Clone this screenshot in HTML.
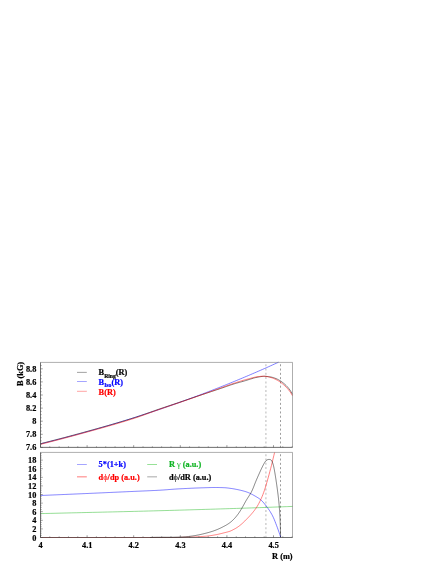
<!DOCTYPE html>
<html><head><meta charset="utf-8"><style>
html,body{margin:0;padding:0;background:#fff;}
svg{display:block}
text{font-family:"Liberation Serif",serif;font-weight:bold;font-size:8.3px;stroke-width:0.2px;fill:#000;stroke:#000}
.b{fill:#0000ff;stroke:#0000ff}.r{fill:#ff0000;stroke:#ff0000}.g{fill:#10b424;stroke:#10b424}
</style></head><body>
<svg width="436" height="564" viewBox="0 0 436 564">
<defs><filter id="bl" x="0" y="0" width="436" height="564" filterUnits="userSpaceOnUse"><feGaussianBlur stdDeviation="0.35"/></filter></defs>
<rect width="436" height="564" fill="#fff"/>
<g filter="url(#bl)">
<g fill="none" stroke-linecap="butt">
<!-- dashed lines -->
<g stroke-dasharray="2.0 2.29" stroke-dashoffset="2.45">
<path d="M265.9,362.4 V447.4 M265.9,452.4 V537.5" stroke="#c4c4c4" stroke-width="1.2" id="dl"/>
<path d="M280.5,362.4 V447.4 M280.5,452.4 V537.5" stroke="#5a5a5a" stroke-width="0.6" id="dd"/>
</g>
<!-- curves top -->
<path d="M40.50,443.89 L42.50,443.40 L44.50,442.90 L46.50,442.40 L48.50,441.90 L50.50,441.40 L52.51,440.89 L54.51,440.38 L56.51,439.87 L58.51,439.35 L60.51,438.83 L62.51,438.31 L64.51,437.79 L66.51,437.26 L68.51,436.73 L70.51,436.20 L72.51,435.66 L74.51,435.13 L76.52,434.58 L78.52,434.04 L80.52,433.49 L82.52,432.94 L84.52,432.39 L86.52,431.83 L88.52,431.27 L90.52,430.71 L92.52,430.15 L94.52,429.58 L96.52,429.01 L98.52,428.43 L100.53,427.86 L102.53,427.28 L104.53,426.69 L106.53,426.10 L108.53,425.51 L110.53,424.92 L112.53,424.32 L114.53,423.72 L116.53,423.12 L118.53,422.52 L120.53,421.91 L122.53,421.29 L124.54,420.68 L126.54,420.06 L128.54,419.43 L130.54,418.81 L132.54,418.18 L134.54,417.55 L136.54,416.91 L138.54,416.27 L140.54,415.63 L142.54,414.98 L144.54,414.33 L146.54,413.68 L148.55,413.02 L150.55,412.36 L152.55,411.70 L154.55,411.03 L156.55,410.36 L158.55,409.69 L160.55,409.01 L162.55,408.33 L164.55,407.64 L166.55,406.95 L168.55,406.26 L170.55,405.57 L172.56,404.87 L174.56,404.16 L176.56,403.46 L178.56,402.75 L180.56,402.03 L182.56,401.31 L184.56,400.59 L186.56,399.87 L188.56,399.14 L190.56,398.40 L192.56,397.67 L194.56,396.93 L196.57,396.18 L198.57,395.43 L200.57,394.68 L202.57,393.93 L204.57,393.17 L206.57,392.40 L208.57,391.64 L210.57,390.86 L212.57,390.09 L214.57,389.31 L216.57,388.53 L218.57,387.74 L220.58,386.95 L222.58,386.15 L224.58,385.35 L226.58,384.55 L228.58,383.74 L230.58,382.93 L232.58,382.11 L234.58,381.29 L236.58,380.47 L238.58,379.64 L240.58,378.81 L242.58,377.97 L244.59,377.13 L246.59,376.29 L248.59,375.44 L250.59,374.59 L252.59,373.73 L254.59,372.87 L256.59,372.00 L258.59,371.13 L260.59,370.26 L262.59,369.38 L264.59,368.50 L266.59,367.61 L268.60,366.72 L270.60,365.82 L272.60,364.92 L274.60,364.01 L276.60,363.10 L278.60,362.19" stroke="#0000ff" stroke-width="0.5"/>
<path d="M40.50,443.70 L41.77,443.38 L43.03,443.06 L44.30,442.74 L45.57,442.42 L46.83,442.10 L48.10,441.78 L49.36,441.45 L50.63,441.13 L51.90,440.80 L53.16,440.47 L54.43,440.15 L55.70,439.82 L56.96,439.49 L58.23,439.16 L59.49,438.83 L60.76,438.50 L62.03,438.16 L63.29,437.83 L64.56,437.50 L65.83,437.16 L67.09,436.82 L68.36,436.49 L69.63,436.15 L70.89,435.81 L72.16,435.47 L73.42,435.13 L74.69,434.79 L75.96,434.45 L77.22,434.10 L78.49,433.76 L79.76,433.41 L81.02,433.07 L82.29,432.72 L83.56,432.38 L84.82,432.03 L86.09,431.68 L87.35,431.33 L88.62,430.98 L89.89,430.63 L91.15,430.28 L92.42,429.93 L93.69,429.58 L94.95,429.23 L96.22,428.88 L97.48,428.53 L98.75,428.17 L100.02,427.82 L101.28,427.47 L102.55,427.11 L103.82,426.76 L105.08,426.40 L106.35,426.04 L107.62,425.69 L108.88,425.33 L110.15,424.97 L111.41,424.60 L112.68,424.24 L113.95,423.87 L115.21,423.51 L116.48,423.14 L117.75,422.77 L119.01,422.39 L120.28,422.02 L121.55,421.64 L122.81,421.26 L124.08,420.88 L125.34,420.50 L126.61,420.11 L127.88,419.72 L129.14,419.33 L130.41,418.94 L131.68,418.54 L132.94,418.14 L134.21,417.74 L135.47,417.33 L136.74,416.91 L138.01,416.49 L139.27,416.06 L140.54,415.63 L141.81,415.19 L143.07,414.75 L144.34,414.31 L145.61,413.86 L146.87,413.42 L148.14,412.97 L149.40,412.52 L150.67,412.07 L151.94,411.62 L153.20,411.17 L154.47,410.72 L155.74,410.27 L157.00,409.83 L158.27,409.39 L159.54,408.96 L160.80,408.53 L162.07,408.10 L163.33,407.67 L164.60,407.25 L165.87,406.82 L167.13,406.40 L168.40,405.98 L169.67,405.55 L170.93,405.13 L172.20,404.71 L173.46,404.29 L174.73,403.87 L176.00,403.44 L177.26,403.02 L178.53,402.60 L179.80,402.17 L181.06,401.74 L182.33,401.31 L183.60,400.88 L184.86,400.45 L186.13,400.02 L187.39,399.58 L188.66,399.15 L189.93,398.72 L191.19,398.29 L192.46,397.86 L193.73,397.43 L194.99,397.00 L196.26,396.58 L197.53,396.15 L198.79,395.73 L200.06,395.31 L201.32,394.89 L202.59,394.47 L203.86,394.05 L205.12,393.63 L206.39,393.22 L207.66,392.80 L208.92,392.38 L210.19,391.96 L211.45,391.54 L212.72,391.13 L213.99,390.71 L215.25,390.29 L216.52,389.86 L217.79,389.44 L219.05,389.02 L220.32,388.59 L221.59,388.16 L222.85,387.72 L224.12,387.28 L225.38,386.83 L226.65,386.39 L227.92,385.95 L229.18,385.51 L230.45,385.07 L231.72,384.65 L232.98,384.23 L234.25,383.83 L235.52,383.44 L236.78,383.08 L238.05,382.72 L239.31,382.38 L240.58,382.04 L241.85,381.69 L243.11,381.35 L244.38,380.98 L245.65,380.60 L246.91,380.20 L248.18,379.79 L249.44,379.40 L250.71,379.01 L251.98,378.61 L253.24,378.22 L254.51,377.87 L255.78,377.55 L257.04,377.29 L258.31,377.06 L259.58,376.83 L260.84,376.62 L262.11,376.45 L263.37,376.34 L264.64,376.30 L265.91,376.34 L267.17,376.46 L268.44,376.62 L269.71,376.82 L270.97,377.03 L272.24,377.31 L273.51,377.68 L274.77,378.11 L276.04,378.60 L277.30,379.14 L278.57,379.80 L279.84,380.55 L281.10,381.36 L282.37,382.27 L283.64,383.27 L284.90,384.37 L286.17,385.56 L287.43,386.88 L288.70,388.37 L289.97,390.05 L291.23,392.06 L292.50,394.40" stroke="#000" stroke-width="0.5"/>
<path d="M40.50,444.35 L41.77,444.03 L43.03,443.71 L44.30,443.39 L45.57,443.07 L46.83,442.75 L48.10,442.43 L49.36,442.11 L50.63,441.78 L51.90,441.46 L53.16,441.13 L54.43,440.80 L55.70,440.47 L56.96,440.15 L58.23,439.82 L59.49,439.48 L60.76,439.15 L62.03,438.82 L63.29,438.49 L64.56,438.15 L65.83,437.82 L67.09,437.48 L68.36,437.14 L69.63,436.80 L70.89,436.47 L72.16,436.13 L73.42,435.78 L74.69,435.44 L75.96,435.10 L77.22,434.76 L78.49,434.41 L79.76,434.07 L81.02,433.72 L82.29,433.38 L83.56,433.03 L84.82,432.68 L86.09,432.33 L87.35,431.98 L88.62,431.63 L89.89,431.28 L91.15,430.93 L92.42,430.58 L93.69,430.23 L94.95,429.88 L96.22,429.53 L97.48,429.17 L98.75,428.82 L100.02,428.47 L101.28,428.12 L102.55,427.76 L103.82,427.41 L105.08,427.05 L106.35,426.69 L107.62,426.33 L108.88,425.97 L110.15,425.61 L111.41,425.25 L112.68,424.88 L113.95,424.52 L115.21,424.15 L116.48,423.78 L117.75,423.41 L119.01,423.03 L120.28,422.65 L121.55,422.27 L122.81,421.89 L124.08,421.51 L125.34,421.12 L126.61,420.73 L127.88,420.34 L129.14,419.95 L130.41,419.55 L131.68,419.15 L132.94,418.74 L134.21,418.34 L135.47,417.92 L136.74,417.50 L138.01,417.07 L139.27,416.63 L140.54,416.19 L141.81,415.74 L143.07,415.29 L144.34,414.84 L145.61,414.38 L146.87,413.92 L148.14,413.46 L149.40,413.00 L150.67,412.54 L151.94,412.08 L153.20,411.62 L154.47,411.16 L155.74,410.70 L157.00,410.25 L158.27,409.80 L159.54,409.36 L160.80,408.92 L162.07,408.49 L163.33,408.05 L164.60,407.62 L165.87,407.19 L167.13,406.76 L168.40,406.34 L169.67,405.91 L170.93,405.48 L172.20,405.06 L173.46,404.63 L174.73,404.20 L176.00,403.77 L177.26,403.34 L178.53,402.91 L179.80,402.47 L181.06,402.04 L182.33,401.60 L183.60,401.16 L184.86,400.72 L186.13,400.27 L187.39,399.83 L188.66,399.39 L189.93,398.94 L191.19,398.49 L192.46,398.05 L193.73,397.60 L194.99,397.15 L196.26,396.70 L197.53,396.25 L198.79,395.80 L200.06,395.35 L201.32,394.90 L202.59,394.44 L203.86,393.99 L205.12,393.53 L206.39,393.08 L207.66,392.62 L208.92,392.17 L210.19,391.71 L211.45,391.26 L212.72,390.80 L213.99,390.35 L215.25,389.89 L216.52,389.44 L217.79,388.99 L219.05,388.54 L220.32,388.09 L221.59,387.63 L222.85,387.18 L224.12,386.72 L225.38,386.26 L226.65,385.81 L227.92,385.35 L229.18,384.90 L230.45,384.45 L231.72,384.01 L232.98,383.58 L234.25,383.15 L235.52,382.73 L236.78,382.32 L238.05,381.91 L239.31,381.51 L240.58,381.11 L241.85,380.72 L243.11,380.34 L244.38,379.98 L245.65,379.62 L246.91,379.28 L248.18,378.96 L249.44,378.63 L250.71,378.28 L251.98,377.93 L253.24,377.58 L254.51,377.26 L255.78,377.00 L257.04,376.79 L258.31,376.63 L259.58,376.47 L260.84,376.34 L262.11,376.24 L263.37,376.20 L264.64,376.24 L265.91,376.39 L267.17,376.62 L268.44,376.90 L269.71,377.22 L270.97,377.54 L272.24,377.94 L273.51,378.42 L274.77,378.97 L276.04,379.57 L277.30,380.22 L278.57,380.98 L279.84,381.81 L281.10,382.71 L282.37,383.70 L283.64,384.77 L284.90,385.93 L286.17,387.17 L287.43,388.51 L288.70,390.00 L289.97,391.65 L291.23,393.59 L292.50,395.80" stroke="#ff0000" stroke-width="0.5"/>
<!-- curves bottom -->
<path d="M40.50,495.50 L41.30,495.47 L42.11,495.43 L42.91,495.40 L43.71,495.37 L44.52,495.33 L45.32,495.30 L46.12,495.26 L46.92,495.23 L47.73,495.20 L48.53,495.16 L49.33,495.13 L50.14,495.09 L50.94,495.06 L51.74,495.03 L52.55,494.99 L53.35,494.96 L54.15,494.92 L54.95,494.89 L55.76,494.86 L56.56,494.82 L57.36,494.79 L58.17,494.75 L58.97,494.72 L59.77,494.68 L60.58,494.65 L61.38,494.62 L62.18,494.58 L62.98,494.55 L63.79,494.51 L64.59,494.48 L65.39,494.44 L66.20,494.41 L67.00,494.37 L67.80,494.34 L68.61,494.31 L69.41,494.27 L70.21,494.24 L71.01,494.20 L71.82,494.17 L72.62,494.13 L73.42,494.10 L74.23,494.06 L75.03,494.03 L75.83,493.99 L76.64,493.96 L77.44,493.92 L78.24,493.89 L79.04,493.85 L79.85,493.82 L80.65,493.78 L81.45,493.75 L82.26,493.71 L83.06,493.68 L83.86,493.64 L84.67,493.61 L85.47,493.57 L86.27,493.54 L87.07,493.50 L87.88,493.47 L88.68,493.43 L89.48,493.39 L90.29,493.36 L91.09,493.32 L91.89,493.29 L92.70,493.25 L93.50,493.22 L94.30,493.18 L95.10,493.15 L95.91,493.11 L96.71,493.07 L97.51,493.04 L98.32,493.00 L99.12,492.97 L99.92,492.93 L100.73,492.89 L101.53,492.86 L102.33,492.82 L103.13,492.79 L103.94,492.75 L104.74,492.71 L105.54,492.68 L106.35,492.64 L107.15,492.61 L107.95,492.57 L108.76,492.53 L109.56,492.50 L110.36,492.46 L111.16,492.42 L111.97,492.39 L112.77,492.35 L113.57,492.31 L114.38,492.28 L115.18,492.24 L115.98,492.21 L116.79,492.17 L117.59,492.13 L118.39,492.10 L119.19,492.06 L120.00,492.02 L120.80,491.99 L121.60,491.95 L122.41,491.91 L123.21,491.88 L124.01,491.84 L124.82,491.80 L125.62,491.77 L126.42,491.73 L127.23,491.69 L128.03,491.66 L128.83,491.62 L129.63,491.58 L130.44,491.55 L131.24,491.51 L132.04,491.48 L132.85,491.44 L133.65,491.40 L134.45,491.37 L135.26,491.33 L136.06,491.29 L136.86,491.26 L137.66,491.23 L138.47,491.19 L139.27,491.16 L140.07,491.12 L140.88,491.09 L141.68,491.05 L142.48,491.02 L143.29,490.99 L144.09,490.95 L144.89,490.92 L145.69,490.89 L146.50,490.85 L147.30,490.82 L148.10,490.78 L148.91,490.75 L149.71,490.71 L150.51,490.67 L151.32,490.64 L152.12,490.60 L152.92,490.56 L153.72,490.53 L154.53,490.49 L155.33,490.45 L156.13,490.41 L156.94,490.37 L157.74,490.32 L158.54,490.28 L159.35,490.24 L160.15,490.19 L160.95,490.14 L161.75,490.09 L162.56,490.04 L163.36,489.99 L164.16,489.93 L164.97,489.87 L165.77,489.81 L166.57,489.75 L167.38,489.69 L168.18,489.62 L168.98,489.56 L169.78,489.50 L170.59,489.43 L171.39,489.37 L172.19,489.31 L173.00,489.25 L173.80,489.19 L174.60,489.13 L175.41,489.08 L176.21,489.03 L177.01,488.97 L177.81,488.93 L178.62,488.88 L179.42,488.84 L180.22,488.80 L181.03,488.75 L181.83,488.71 L182.63,488.67 L183.44,488.63 L184.24,488.58 L185.04,488.54 L185.84,488.50 L186.65,488.46 L187.45,488.42 L188.25,488.38 L189.06,488.35 L189.86,488.31 L190.66,488.27 L191.47,488.23 L192.27,488.20 L193.07,488.16 L193.87,488.13 L194.68,488.09 L195.48,488.06 L196.28,488.03 L197.09,488.00 L197.89,487.97 L198.69,487.94 L199.50,487.91 L200.30,487.88 L201.10,487.85 L201.91,487.82 L202.71,487.80 L203.51,487.77 L204.31,487.75 L205.12,487.72 L205.92,487.70 L206.72,487.68 L207.53,487.65 L208.33,487.63 L209.13,487.61 L209.94,487.58 L210.74,487.56 L211.54,487.54 L212.34,487.53 L213.15,487.51 L213.95,487.50 L214.75,487.50 L215.56,487.50 L216.36,487.51 L217.16,487.51 L217.97,487.52 L218.77,487.54 L219.57,487.56 L220.37,487.58 L221.18,487.60 L221.98,487.62 L222.78,487.65 L223.59,487.68 L224.39,487.71 L225.19,487.75 L226.00,487.82 L226.80,487.90 L227.60,487.99 L228.40,488.09 L229.21,488.20 L230.01,488.30 L230.81,488.41 L231.62,488.52 L232.42,488.65 L233.22,488.78 L234.03,488.92 L234.83,489.06 L235.63,489.22 L236.43,489.37 L237.24,489.54 L238.04,489.70 L238.84,489.87 L239.65,490.05 L240.45,490.23 L241.25,490.43 L242.06,490.63 L242.86,490.83 L243.66,491.05 L244.46,491.28 L245.27,491.53 L246.07,491.79 L246.87,492.06 L247.68,492.35 L248.48,492.67 L249.28,493.02 L250.09,493.39 L250.89,493.78 L251.69,494.19 L252.49,494.61 L253.30,495.05 L254.10,495.50 L254.90,495.96 L255.71,496.42 L256.51,496.89 L257.31,497.37 L258.12,497.88 L258.92,498.42 L259.72,499.00 L260.52,499.64 L261.33,500.34 L262.13,501.13 L262.93,501.98 L263.74,502.90 L264.54,503.86 L265.34,504.87 L266.15,505.91 L266.95,506.96 L267.75,508.05 L268.55,509.18 L269.36,510.37 L270.16,511.62 L270.96,512.94 L271.77,514.35 L272.57,515.84 L273.37,517.50 L274.18,519.34 L274.98,521.33 L275.78,523.41 L276.58,525.53 L277.39,527.67 L278.19,529.89 L278.99,532.19 L279.80,534.56 L280.60,537.00" stroke="#0000ff" stroke-width="0.5"/>
<path d="M40.50,513.60 L45.65,513.48 L50.80,513.36 L55.95,513.24 L61.10,513.11 L66.24,512.99 L71.39,512.87 L76.54,512.75 L81.69,512.63 L86.84,512.51 L91.99,512.39 L97.14,512.27 L102.29,512.15 L107.44,512.03 L112.59,511.91 L117.73,511.79 L122.88,511.67 L128.03,511.54 L133.18,511.41 L138.33,511.28 L143.48,511.15 L148.63,511.01 L153.78,510.87 L158.93,510.73 L164.08,510.59 L169.22,510.44 L174.37,510.30 L179.52,510.15 L184.67,510.00 L189.82,509.85 L194.97,509.70 L200.12,509.55 L205.27,509.39 L210.42,509.24 L215.57,509.08 L220.71,508.92 L225.86,508.76 L231.01,508.59 L236.16,508.43 L241.31,508.26 L246.46,508.08 L251.61,507.91 L256.76,507.73 L261.91,507.55 L267.06,507.36 L272.20,507.17 L277.35,506.98 L282.50,506.79 L287.65,506.60 L292.80,506.40" stroke="#11b011" stroke-width="0.42"/>
<path d="M40.50,537.50 L41.28,537.50 L42.07,537.50 L42.85,537.50 L43.63,537.50 L44.41,537.50 L45.20,537.50 L45.98,537.50 L46.76,537.50 L47.55,537.50 L48.33,537.50 L49.11,537.50 L49.90,537.50 L50.68,537.50 L51.46,537.50 L52.24,537.50 L53.03,537.50 L53.81,537.50 L54.59,537.50 L55.38,537.50 L56.16,537.50 L56.94,537.50 L57.72,537.50 L58.51,537.50 L59.29,537.50 L60.07,537.50 L60.86,537.50 L61.64,537.50 L62.42,537.50 L63.21,537.50 L63.99,537.50 L64.77,537.50 L65.55,537.50 L66.34,537.50 L67.12,537.50 L67.90,537.50 L68.69,537.50 L69.47,537.50 L70.25,537.50 L71.03,537.50 L71.82,537.50 L72.60,537.50 L73.38,537.50 L74.17,537.50 L74.95,537.50 L75.73,537.50 L76.52,537.50 L77.30,537.50 L78.08,537.50 L78.86,537.50 L79.65,537.50 L80.43,537.50 L81.21,537.50 L82.00,537.50 L82.78,537.50 L83.56,537.50 L84.34,537.50 L85.13,537.50 L85.91,537.50 L86.69,537.50 L87.48,537.50 L88.26,537.50 L89.04,537.50 L89.83,537.50 L90.61,537.50 L91.39,537.50 L92.17,537.50 L92.96,537.50 L93.74,537.50 L94.52,537.50 L95.31,537.50 L96.09,537.50 L96.87,537.50 L97.65,537.50 L98.44,537.50 L99.22,537.50 L100.00,537.50 L100.79,537.50 L101.57,537.50 L102.35,537.50 L103.14,537.50 L103.92,537.50 L104.70,537.50 L105.48,537.50 L106.27,537.50 L107.05,537.50 L107.83,537.50 L108.62,537.50 L109.40,537.50 L110.18,537.50 L110.96,537.50 L111.75,537.50 L112.53,537.50 L113.31,537.50 L114.10,537.50 L114.88,537.50 L115.66,537.50 L116.45,537.50 L117.23,537.50 L118.01,537.50 L118.79,537.50 L119.58,537.50 L120.36,537.50 L121.14,537.50 L121.93,537.50 L122.71,537.50 L123.49,537.50 L124.27,537.50 L125.06,537.50 L125.84,537.50 L126.62,537.50 L127.41,537.50 L128.19,537.50 L128.97,537.50 L129.76,537.50 L130.54,537.50 L131.32,537.50 L132.10,537.50 L132.89,537.50 L133.67,537.50 L134.45,537.50 L135.24,537.50 L136.02,537.50 L136.80,537.50 L137.58,537.50 L138.37,537.50 L139.15,537.50 L139.93,537.50 L140.72,537.50 L141.50,537.50 L142.28,537.50 L143.07,537.50 L143.85,537.50 L144.63,537.50 L145.41,537.50 L146.20,537.50 L146.98,537.50 L147.76,537.50 L148.55,537.50 L149.33,537.50 L150.11,537.50 L150.89,537.50 L151.68,537.50 L152.46,537.50 L153.24,537.50 L154.03,537.50 L154.81,537.50 L155.59,537.50 L156.38,537.50 L157.16,537.50 L157.94,537.50 L158.72,537.50 L159.51,537.50 L160.29,537.50 L161.07,537.50 L161.86,537.50 L162.64,537.50 L163.42,537.50 L164.21,537.50 L164.99,537.50 L165.77,537.50 L166.55,537.50 L167.34,537.50 L168.12,537.50 L168.90,537.50 L169.69,537.50 L170.47,537.50 L171.25,537.50 L172.03,537.49 L172.82,537.49 L173.60,537.48 L174.38,537.47 L175.17,537.46 L175.95,537.45 L176.73,537.44 L177.52,537.43 L178.30,537.41 L179.08,537.40 L179.86,537.38 L180.65,537.36 L181.43,537.34 L182.21,537.32 L183.00,537.30 L183.78,537.28 L184.56,537.26 L185.34,537.24 L186.13,537.21 L186.91,537.19 L187.69,537.17 L188.48,537.15 L189.26,537.12 L190.04,537.10 L190.83,537.07 L191.61,537.05 L192.39,537.02 L193.17,536.99 L193.96,536.96 L194.74,536.92 L195.52,536.88 L196.31,536.85 L197.09,536.81 L197.87,536.76 L198.65,536.72 L199.44,536.67 L200.22,536.62 L201.00,536.57 L201.79,536.52 L202.57,536.46 L203.35,536.40 L204.14,536.34 L204.92,536.28 L205.70,536.22 L206.48,536.15 L207.27,536.07 L208.05,535.98 L208.83,535.88 L209.62,535.77 L210.40,535.66 L211.18,535.54 L211.96,535.42 L212.75,535.29 L213.53,535.16 L214.31,535.02 L215.10,534.88 L215.88,534.74 L216.66,534.59 L217.45,534.42 L218.23,534.25 L219.01,534.07 L219.79,533.89 L220.58,533.70 L221.36,533.51 L222.14,533.32 L222.93,533.12 L223.71,532.92 L224.49,532.73 L225.27,532.53 L226.06,532.34 L226.84,532.14 L227.62,531.94 L228.41,531.71 L229.19,531.47 L229.97,531.21 L230.76,530.90 L231.54,530.55 L232.32,530.16 L233.10,529.76 L233.89,529.34 L234.67,528.91 L235.45,528.47 L236.24,528.00 L237.02,527.51 L237.80,526.99 L238.58,526.44 L239.37,525.86 L240.15,525.24 L240.93,524.59 L241.72,523.91 L242.50,523.21 L243.28,522.48 L244.07,521.74 L244.85,520.97 L245.63,520.19 L246.41,519.40 L247.20,518.60 L247.98,517.79 L248.76,516.97 L249.55,516.14 L250.33,515.29 L251.11,514.41 L251.89,513.51 L252.68,512.58 L253.46,511.61 L254.24,510.61 L255.03,509.56 L255.81,508.46 L256.59,507.31 L257.38,506.06 L258.16,504.70 L258.94,503.24 L259.72,501.71 L260.51,500.10 L261.29,498.40 L262.07,496.59 L262.86,494.66 L263.64,492.59 L264.42,490.38 L265.20,487.96 L265.99,485.37 L266.77,482.68 L267.55,479.97 L268.34,477.20 L269.12,474.35 L269.90,471.42 L270.69,468.43 L271.47,465.35 L272.25,462.16 L273.03,458.91 L273.82,455.67 L274.60,452.40" stroke="#ff0000" stroke-width="0.5"/>
<path d="M150.00,537.50 L150.59,537.47 L151.19,537.44 L151.78,537.42 L152.37,537.39 L152.97,537.37 L153.56,537.35 L154.15,537.33 L154.75,537.32 L155.34,537.30 L155.94,537.29 L156.54,537.28 L157.13,537.27 L157.73,537.26 L158.32,537.26 L158.92,537.25 L159.52,537.25 L160.12,537.24 L160.71,537.24 L161.31,537.24 L161.91,537.24 L162.51,537.23 L163.10,537.23 L163.70,537.23 L164.30,537.23 L164.90,537.24 L165.50,537.24 L166.10,537.24 L166.69,537.24 L167.29,537.24 L167.89,537.24 L168.49,537.24 L169.09,537.24 L169.69,537.24 L170.29,537.24 L170.89,537.24 L171.49,537.23 L172.08,537.23 L172.68,537.23 L173.28,537.22 L173.88,537.22 L174.48,537.21 L175.08,537.20 L175.68,537.19 L176.27,537.18 L176.87,537.16 L177.47,537.15 L178.07,537.13 L178.67,537.11 L179.26,537.09 L179.86,537.07 L180.46,537.05 L181.06,537.02 L181.65,536.99 L182.25,536.96 L182.85,536.93 L183.44,536.89 L184.04,536.85 L184.63,536.81 L185.23,536.77 L185.82,536.72 L186.42,536.67 L187.01,536.62 L187.61,536.56 L188.20,536.50 L188.79,536.44 L189.39,536.37 L189.98,536.30 L190.57,536.23 L191.16,536.15 L191.75,536.07 L192.35,535.99 L192.94,535.90 L193.53,535.81 L194.12,535.72 L194.70,535.62 L195.29,535.52 L195.88,535.41 L196.47,535.31 L197.06,535.20 L197.64,535.09 L198.23,534.97 L198.82,534.85 L199.40,534.73 L199.99,534.61 L200.57,534.48 L201.15,534.35 L201.74,534.22 L202.32,534.08 L202.90,533.95 L203.48,533.81 L204.06,533.66 L204.65,533.52 L205.23,533.37 L205.80,533.22 L206.38,533.07 L206.96,532.92 L207.54,532.76 L208.12,532.61 L208.69,532.44 L209.27,532.28 L209.84,532.11 L210.41,531.94 L210.98,531.77 L211.55,531.59 L212.12,531.40 L212.69,531.22 L213.25,531.03 L213.82,530.83 L214.38,530.63 L214.94,530.42 L215.50,530.21 L216.05,530.00 L216.61,529.77 L217.16,529.55 L217.71,529.32 L218.26,529.08 L218.81,528.84 L219.35,528.60 L219.89,528.35 L220.44,528.10 L220.97,527.84 L221.51,527.58 L222.05,527.31 L222.58,527.04 L223.12,526.77 L223.65,526.49 L224.18,526.21 L224.70,525.93 L225.23,525.64 L225.75,525.35 L226.27,525.05 L226.79,524.75 L227.30,524.44 L227.80,524.12 L228.31,523.80 L228.80,523.46 L229.29,523.12 L229.77,522.77 L230.25,522.41 L230.71,522.04 L231.17,521.66 L231.63,521.27 L232.07,520.87 L232.51,520.46 L232.94,520.05 L233.37,519.63 L233.79,519.20 L234.20,518.77 L234.61,518.34 L235.01,517.89 L235.41,517.44 L235.80,516.99 L236.18,516.53 L236.56,516.07 L236.93,515.60 L237.30,515.13 L237.66,514.65 L238.02,514.17 L238.37,513.69 L238.71,513.20 L239.05,512.71 L239.38,512.21 L239.71,511.71 L240.04,511.21 L240.36,510.71 L240.67,510.20 L240.98,509.69 L241.29,509.18 L241.60,508.67 L241.90,508.15 L242.19,507.63 L242.49,507.11 L242.78,506.59 L243.07,506.07 L243.36,505.55 L243.65,505.02 L243.93,504.50 L244.22,503.97 L244.51,503.45 L244.79,502.92 L245.08,502.40 L245.37,501.88 L245.66,501.36 L245.96,500.84 L246.26,500.33 L246.57,499.81 L246.88,499.30 L247.19,498.79 L247.51,498.29 L247.84,497.79 L248.16,497.29 L248.49,496.78 L248.82,496.28 L249.14,495.78 L249.47,495.28 L249.79,494.78 L250.10,494.27 L250.41,493.76 L250.71,493.24 L251.00,492.72 L251.28,492.20 L251.55,491.67 L251.81,491.13 L252.07,490.60 L252.31,490.05 L252.55,489.51 L252.79,488.96 L253.02,488.41 L253.25,487.86 L253.47,487.30 L253.69,486.74 L253.91,486.19 L254.13,485.63 L254.35,485.07 L254.56,484.51 L254.78,483.95 L255.00,483.39 L255.22,482.84 L255.45,482.28 L255.68,481.73 L255.90,481.18 L256.13,480.62 L256.37,480.07 L256.60,479.52 L256.84,478.97 L257.07,478.42 L257.31,477.88 L257.55,477.33 L257.79,476.78 L258.03,476.24 L258.28,475.69 L258.52,475.15 L258.76,474.60 L259.01,474.06 L259.25,473.52 L259.50,472.97 L259.74,472.43 L259.99,471.89 L260.23,471.35 L260.48,470.81 L260.72,470.26 L260.97,469.72 L261.22,469.18 L261.47,468.65 L261.73,468.11 L261.99,467.57 L262.25,467.03 L262.52,466.50 L262.79,465.97 L263.06,465.43 L263.34,464.90 L263.62,464.38 L263.92,463.85 L264.21,463.32 L264.52,462.80 L264.83,462.28 L265.16,461.78 L265.52,461.30 L265.91,460.85 L266.35,460.44 L266.83,460.08 L267.36,459.79 L267.92,459.57 L268.50,459.45 L269.10,459.42 L269.70,459.48 L270.29,459.64 L270.83,459.89 L271.29,460.25 L271.67,460.70 L271.98,461.23 L272.24,461.79 L272.47,462.37 L272.68,462.95 L272.87,463.53 L273.05,464.11 L273.22,464.69 L273.38,465.27 L273.53,465.84 L273.66,466.42 L273.79,467.00 L273.91,467.57 L274.03,468.15 L274.14,468.73 L274.25,469.31 L274.35,469.89 L274.46,470.47 L274.56,471.05 L274.66,471.64 L274.77,472.22 L274.87,472.81 L274.97,473.39 L275.06,473.98 L275.16,474.57 L275.26,475.16 L275.35,475.75 L275.45,476.34 L275.54,476.93 L275.64,477.52 L275.73,478.11 L275.82,478.70 L275.91,479.29 L276.00,479.89 L276.09,480.48 L276.18,481.07 L276.26,481.67 L276.35,482.26 L276.44,482.85 L276.52,483.45 L276.61,484.04 L276.69,484.63 L276.78,485.23 L276.86,485.82 L276.94,486.41 L277.03,487.01 L277.11,487.60 L277.19,488.19 L277.27,488.79 L277.35,489.38 L277.43,489.97 L277.51,490.56 L277.59,491.16 L277.66,491.75 L277.74,492.34 L277.82,492.93 L277.89,493.52 L277.97,494.12 L278.04,494.71 L278.11,495.30 L278.18,495.89 L278.25,496.49 L278.32,497.08 L278.39,497.67 L278.46,498.26 L278.52,498.86 L278.59,499.45 L278.65,500.04 L278.71,500.64 L278.77,501.23 L278.83,501.82 L278.89,502.42 L278.95,503.01 L279.00,503.60 L279.06,504.20 L279.11,504.79 L279.16,505.39 L279.21,505.98 L279.26,506.58 L279.31,507.17 L279.36,507.77 L279.40,508.36 L279.45,508.96 L279.49,509.55 L279.53,510.15 L279.58,510.74 L279.62,511.34 L279.66,511.94 L279.69,512.53 L279.73,513.13 L279.77,513.73 L279.80,514.32 L279.84,514.92 L279.87,515.52 L279.90,516.11 L279.93,516.71 L279.96,517.31 L279.99,517.90 L280.02,518.50 L280.05,519.10 L280.08,519.69 L280.10,520.29 L280.13,520.89 L280.15,521.49 L280.18,522.08 L280.20,522.68 L280.22,523.28 L280.24,523.87 L280.27,524.47 L280.29,525.07 L280.31,525.67 L280.33,526.26 L280.34,526.86 L280.36,527.46 L280.38,528.05 L280.40,528.65 L280.42,529.25 L280.43,529.84 L280.45,530.44 L280.46,531.04 L280.48,531.63 L280.49,532.23 L280.51,532.83 L280.52,533.42 L280.54,534.02 L280.55,534.62 L280.56,535.21 L280.58,535.81 L280.59,536.40 L280.60,537.00" stroke="#000" stroke-width="0.5"/>
<!-- frames -->
<path d="M40.5,362.4 H292.5 V447.4" stroke="#777" stroke-width="0.6"/>
<path d="M40.5,452.4 H292.5 V537.5" stroke="#777" stroke-width="0.6"/>
<path d="M40.5,362.4 V447.4 H292.5" stroke="#333" stroke-width="0.7"/>
<path d="M40.5,452.4 V537.5 H292.5" stroke="#333" stroke-width="0.7"/>
<path d="M40.50,447.4 v-2.2 M49.82,447.4 v-1.1 M59.14,447.4 v-1.1 M68.46,447.4 v-1.1 M77.78,447.4 v-1.1 M87.10,447.4 v-2.2 M96.42,447.4 v-1.1 M105.74,447.4 v-1.1 M115.06,447.4 v-1.1 M124.38,447.4 v-1.1 M133.70,447.4 v-2.2 M143.02,447.4 v-1.1 M152.34,447.4 v-1.1 M161.66,447.4 v-1.1 M170.98,447.4 v-1.1 M180.30,447.4 v-2.2 M189.62,447.4 v-1.1 M198.94,447.4 v-1.1 M208.26,447.4 v-1.1 M217.58,447.4 v-1.1 M226.90,447.4 v-2.2 M236.22,447.4 v-1.1 M245.54,447.4 v-1.1 M254.86,447.4 v-1.1 M264.18,447.4 v-1.1 M273.50,447.4 v-2.2 M282.82,447.4 v-1.1 M292.14,447.4 v-1.1 M40.50,537.5 v-2.2 M49.82,537.5 v-1.1 M59.14,537.5 v-1.1 M68.46,537.5 v-1.1 M77.78,537.5 v-1.1 M87.10,537.5 v-2.2 M96.42,537.5 v-1.1 M105.74,537.5 v-1.1 M115.06,537.5 v-1.1 M124.38,537.5 v-1.1 M133.70,537.5 v-2.2 M143.02,537.5 v-1.1 M152.34,537.5 v-1.1 M161.66,537.5 v-1.1 M170.98,537.5 v-1.1 M180.30,537.5 v-2.2 M189.62,537.5 v-1.1 M198.94,537.5 v-1.1 M208.26,537.5 v-1.1 M217.58,537.5 v-1.1 M226.90,537.5 v-2.2 M236.22,537.5 v-1.1 M245.54,537.5 v-1.1 M254.86,537.5 v-1.1 M264.18,537.5 v-1.1 M273.50,537.5 v-2.2 M282.82,537.5 v-1.1 M292.14,537.5 v-1.1 M40.5,447.40 h2.2 M40.5,444.12 h1.1 M40.5,440.85 h1.1 M40.5,437.57 h1.1 M40.5,434.30 h2.2 M40.5,431.02 h1.1 M40.5,427.75 h1.1 M40.5,424.48 h1.1 M40.5,421.20 h2.2 M40.5,417.93 h1.1 M40.5,414.65 h1.1 M40.5,411.37 h1.1 M40.5,408.10 h2.2 M40.5,404.82 h1.1 M40.5,401.55 h1.1 M40.5,398.27 h1.1 M40.5,395.00 h2.2 M40.5,391.73 h1.1 M40.5,388.45 h1.1 M40.5,385.18 h1.1 M40.5,381.90 h2.2 M40.5,378.62 h1.1 M40.5,375.35 h1.1 M40.5,372.07 h1.1 M40.5,368.80 h2.2 M40.5,365.52 h1.1 M40.5,537.50 h2.2 M40.5,535.35 h1.1 M40.5,533.20 h1.1 M40.5,531.05 h1.1 M40.5,528.90 h2.2 M40.5,526.75 h1.1 M40.5,524.60 h1.1 M40.5,522.45 h1.1 M40.5,520.30 h2.2 M40.5,518.15 h1.1 M40.5,516.00 h1.1 M40.5,513.85 h1.1 M40.5,511.70 h2.2 M40.5,509.55 h1.1 M40.5,507.40 h1.1 M40.5,505.25 h1.1 M40.5,503.10 h2.2 M40.5,500.95 h1.1 M40.5,498.80 h1.1 M40.5,496.65 h1.1 M40.5,494.50 h2.2 M40.5,492.35 h1.1 M40.5,490.20 h1.1 M40.5,488.05 h1.1 M40.5,485.90 h2.2 M40.5,483.75 h1.1 M40.5,481.60 h1.1 M40.5,479.45 h1.1 M40.5,477.30 h2.2 M40.5,475.15 h1.1 M40.5,473.00 h1.1 M40.5,470.85 h1.1 M40.5,468.70 h2.2 M40.5,466.55 h1.1 M40.5,464.40 h1.1 M40.5,462.25 h1.1 M40.5,460.10 h2.2 M40.5,457.95 h1.1 M40.5,455.80 h1.1 M40.5,453.65 h1.1" stroke="#444" stroke-width="0.55"/>
<!-- legend lines -->
<path d="M77,372.4 H86.8" stroke="#333" stroke-width="0.45"/>
<path d="M77,381.5 H86.8" stroke="#3333ff" stroke-width="0.45"/>
<path d="M77,391.3 H86.8" stroke="#ff3333" stroke-width="0.45"/>
<path d="M77,464.5 H86.8" stroke="#3333ff" stroke-width="0.45"/>
<path d="M77,476.8 H86.8" stroke="#ff9999" stroke-width="1.3"/>
<path d="M147.2,464.5 H157" stroke="#11bb11" stroke-width="0.45"/>
<path d="M147.2,476.8 H157" stroke="#bbb" stroke-width="1.3"/>
</g>
<text x="36.3" y="450.4" text-anchor="end">7.6</text>
<text x="36.3" y="437.3" text-anchor="end">7.8</text>
<text x="36.3" y="424.2" text-anchor="end">8</text>
<text x="36.3" y="411.1" text-anchor="end">8.2</text>
<text x="36.3" y="398.0" text-anchor="end">8.4</text>
<text x="36.3" y="384.9" text-anchor="end">8.6</text>
<text x="36.3" y="371.8" text-anchor="end">8.8</text>
<text x="36.3" y="540.5" text-anchor="end">0</text>
<text x="36.3" y="531.9" text-anchor="end">2</text>
<text x="36.3" y="523.3" text-anchor="end">4</text>
<text x="36.3" y="514.7" text-anchor="end">6</text>
<text x="36.3" y="506.1" text-anchor="end">8</text>
<text x="36.3" y="497.5" text-anchor="end">10</text>
<text x="36.3" y="488.9" text-anchor="end">12</text>
<text x="36.3" y="480.3" text-anchor="end">14</text>
<text x="36.3" y="471.7" text-anchor="end">16</text>
<text x="36.3" y="463.1" text-anchor="end">18</text>
<text x="40.6" y="547.6" text-anchor="middle">4</text>
<text x="87.2" y="547.6" text-anchor="middle">4.1</text>
<text x="133.8" y="547.6" text-anchor="middle">4.2</text>
<text x="180.4" y="547.6" text-anchor="middle">4.3</text>
<text x="227.0" y="547.6" text-anchor="middle">4.4</text>
<text x="273.6" y="547.6" text-anchor="middle">4.5</text>
<text x="98.6" y="374.7">B<tspan dy="2.9" style="font-size:5.7px">Ring</tspan><tspan dy="-2.9">(R)</tspan></text>
<text x="98.6" y="384.5" class="b">B<tspan dy="2.9" style="font-size:5.7px">Iso</tspan><tspan dy="-2.9">(R)</tspan></text>
<text x="98.6" y="394.6" class="r">B(R)</text>
<text x="98.6" y="466.9" class="b">5*(1+k)</text>
<text x="98.6" y="479.5" class="r">d<tspan style="font-weight:normal;stroke-width:0.1px">ϕ</tspan>/dp (a.u.)</text>
<text x="168.9" y="466.9" class="g">R <tspan style="font-weight:normal;stroke-width:0">γ</tspan> (a.u.)</text>
<text x="168.9" y="479.5">d<tspan style="font-weight:normal;stroke-width:0.1px">ϕ</tspan>/dR (a.u.)</text>
<text x="292.6" y="559.4" text-anchor="end">R (m)</text>
<text transform="translate(22.5,361.9) rotate(-90)" text-anchor="end">B (kG)</text>
</g>
</svg>
</body></html>
